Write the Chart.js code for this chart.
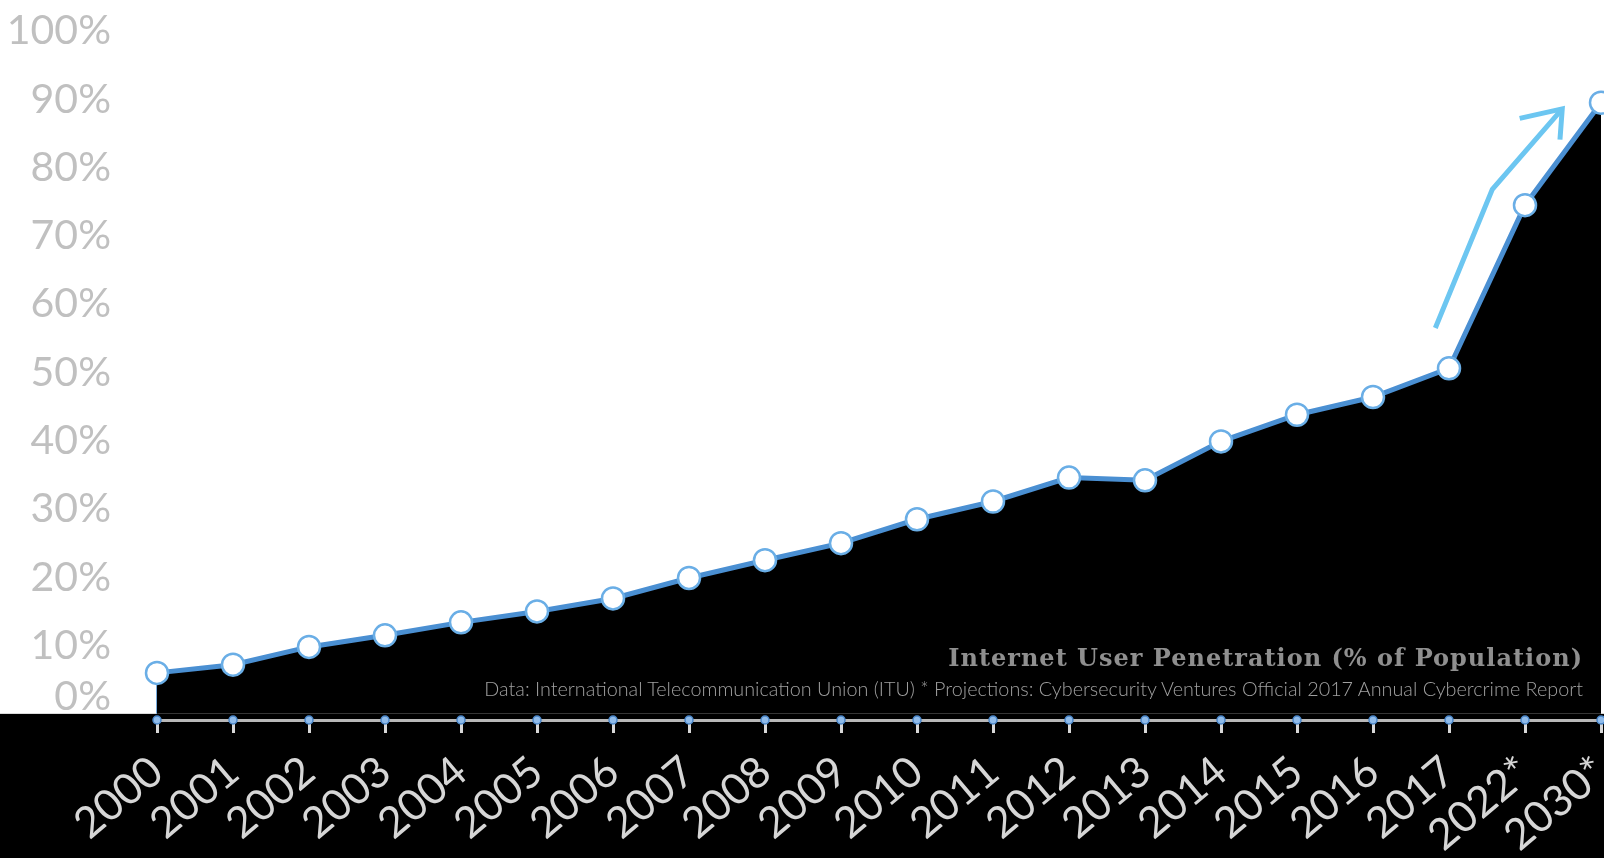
<!DOCTYPE html>
<html>
<head>
<meta charset="utf-8">
<script src="https://cdn.jsdelivr.net/npm/chart.js@4.4.0/dist/chart.umd.min.js"></script>
<style>
  html, body { margin: 0; padding: 0; background: #fff; }
  #wrap { position: relative; width: 1604px; height: 858px; overflow: hidden; }
  #title {
    position: absolute; right: 21px; top: 646px;
    font: bold 24px "DejaVu Serif"; line-height: 24px;
    color: #8f8f8f; letter-spacing: 1px; white-space: nowrap;
  }
  #source {
    position: absolute; right: 21px; top: 679px;
    font: 300 19.8px Lato; line-height: 19.8px;
    color: #a0a0a0; white-space: nowrap;
  }
</style>
</head>
<body>
<div id="wrap">
  <canvas id="penetration"></canvas>
  <div id="title">Internet User Penetration (% of Population)</div>
  <div id="source">Data: International Telecommunication Union (ITU) * Projections: Cybersecurity Ventures Official 2017 Annual Cybercrime Report</div>
</div>
<script>
var years = ["2000", "2001", "2002", "2003", "2004", "2005", "2006", "2007", "2008", "2009",
             "2010", "2011", "2012", "2013", "2014", "2015", "2016", "2017", "2022*", "2030*"];
var penetration = [6.0, 7.2, 9.8, 11.5, 13.4, 15.0, 16.9, 19.9, 22.5, 25.0,
                   28.5, 31.1, 34.6, 34.2, 39.9, 43.8, 46.4, 50.6, 74.5, 89.5];
var yTicks = [0, 10, 20, 30, 40, 50, 60, 70, 80, 90, 100];

// the "0%" label sits a little above the axis in the original
var zeroLabelLift = 2.5;

// black band under the axis, blue dots on the axis line, left edge of the area
var axisDecor = {
  id: "axisDecor",
  beforeDraw: function(chart) {
    var ctx = chart.ctx;
    var y0 = chart.scales.y.getPixelForValue(0);
    ctx.save();
    ctx.fillStyle = "#000";
    ctx.fillRect(0, y0, chart.width, chart.height - y0);
    ctx.restore();
  },
  beforeDatasetsDraw: function(chart) {
    var ctx = chart.ctx;
    var first = chart.getDatasetMeta(0).data[0];
    ctx.save();
    ctx.strokeStyle = "#4a8fd2";
    ctx.lineWidth = 1.5;
    ctx.beginPath();
    ctx.moveTo(first.x, first.y);
    ctx.lineTo(first.x, chart.scales.y.getPixelForValue(0));
    ctx.stroke();
    ctx.restore();
  },
  afterDraw: function(chart) {
    var ctx = chart.ctx;
    var x = chart.scales.x;
    var yb = chart.chartArea.bottom;
    ctx.save();
    x.ticks.forEach(function(t, i) {
      ctx.beginPath();
      ctx.arc(x.getPixelForTick(i), yb, 4, 0, Math.PI * 2);
      ctx.fillStyle = "#8fbbea";
      ctx.fill();
      ctx.lineWidth = 1.5;
      ctx.strokeStyle = "#4a86c8";
      ctx.stroke();
    });
    ctx.restore();
  }
};

// light blue "growth" arrow, in category index / percent units
var growthArrow = {
  id: "growthArrow",
  afterDatasetsDraw: function(chart) {
    var x = chart.scales.x, y = chart.scales.y, ctx = chart.ctx;
    var path = [[16.82, 56.5], [17.57, 76.8], [18.49, 88.6]];
    var head = [[17.93, 87.2], [18.49, 88.6], [18.46, 84.1]];
    function pt(p) { return [x.getPixelForValue(p[0]), y.getPixelForValue(p[1])]; }
    ctx.save();
    ctx.strokeStyle = "#6cc6f1";
    ctx.lineWidth = 5;
    [path, head].forEach(function(seg) {
      ctx.beginPath();
      seg.forEach(function(p, i) {
        var q = pt(p);
        if (i === 0) ctx.moveTo(q[0], q[1]); else ctx.lineTo(q[0], q[1]);
      });
      ctx.stroke();
    });
    ctx.restore();
  }
};

new Chart(document.getElementById("penetration"), {
  type: "line",
  data: {
    labels: years,
    datasets: [{
      data: penetration,
      borderColor: "#4a8fd2",
      borderWidth: 5,
      fill: "origin",
      backgroundColor: "#000",
      pointRadius: 11,
      pointBackgroundColor: "#fff",
      pointBorderColor: "#6aaee6",
      pointBorderWidth: 2.5,
      tension: 0
    }]
  },
  options: {
    responsive: true,
    maintainAspectRatio: false,
    animation: false,
    layout: { autoPadding: false, padding: { left: 8, right: 3, top: 4, bottom: 4 } },
    plugins: { legend: { display: false }, tooltip: { enabled: false } },
    scales: {
      x: {
        grid: { drawOnChartArea: false, drawTicks: true, tickLength: 13, tickWidth: 3, tickColor: "#d8d8d8" },
        border: { display: true, color: "#b8b8b8", width: 3 },
        ticks: {
          color: "#d6d6d6",
          font: { family: "Lato", size: 43 },
          maxRotation: 40, minRotation: 40,
          padding: 13,
          autoSkip: false
        },
        afterFit: function(s) { s.height = 134; s.paddingLeft = 0; s.paddingRight = 0; }
      },
      y: {
        min: -0.9,
        max: 100,
        grid: { display: false, drawTicks: false },
        border: { display: false },
        afterBuildTicks: function(s) {
          s.ticks = yTicks.map(function(v) { return { value: v === 0 ? zeroLabelLift : v }; });
        },
        ticks: {
          color: "#c0c0c0",
          font: { family: "Lato", size: 41 },
          padding: 46,
          callback: function(v) { return (v < 5 ? 0 : v) + "%"; }
        },
        afterFit: function(s) { s.width = 149; s.paddingTop = 31; s.paddingBottom = 0; }
      }
    }
  },
  plugins: [axisDecor, growthArrow]
});
</script>
</body>
</html>
